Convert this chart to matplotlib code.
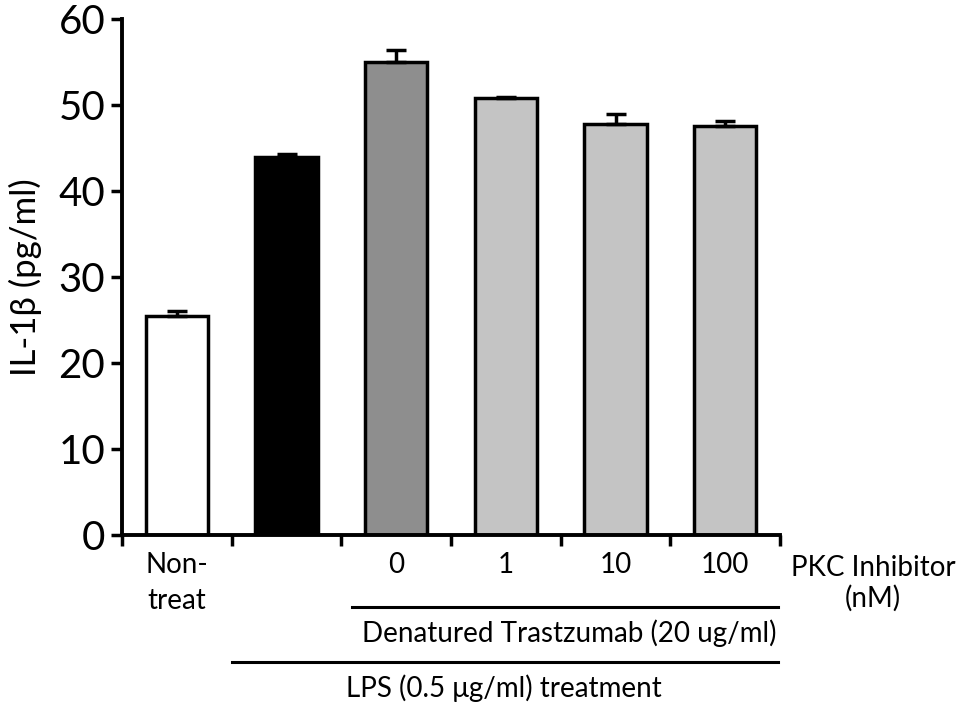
import matplotlib
matplotlib.use('Agg')
import matplotlib.pyplot as plt
import matplotlib.transforms as mtransforms

plt.rcParams['font.family'] = ['Lato', 'DejaVu Sans']

# values
groups = ['Non-\ntreat', '', '0', '1', '10', '100']
means = [25.5, 44.0, 55.0, 50.8, 47.8, 47.6]
errs = [0.5, 0.3, 1.4, 0.1, 1.2, 0.5]
colors = ['white', 'black', '#8e8e8e', '#c4c4c4', '#c4c4c4', '#c4c4c4']

fig = plt.figure(figsize=(9.63, 7.05), dpi=100)
ax = fig.add_axes([122 / 963, 1 - 535 / 705, 658 / 963, 516 / 705])

x = list(range(len(means)))
ax.bar(x, means, width=0.57, color=colors, edgecolor='black', linewidth=2.5,
       yerr=[[0] * len(errs), errs], error_kw=dict(ecolor='black', elinewidth=2.5, capsize=7, capthick=2.5),
       zorder=2)

ax.set_xlim(-0.5, 5.5)
ax.set_ylim(0, 60)
ax.set_yticks([0, 10, 20, 30, 40, 50, 60])
ax.tick_params(axis='y', labelsize=29, width=2.5, length=8, direction='out', pad=4)
ax.set_ylabel('IL-1β (pg/ml)', fontsize=25, labelpad=12)

# category boundaries as ticks, group names in between
ax.set_xticks([i - 0.5 for i in range(len(means) + 1)])
ax.set_xticklabels([])
ax.set_xticks(x, minor=True)
ax.set_xticklabels(groups, minor=True, fontsize=20, linespacing=1.5)
ax.tick_params(axis='x', which='major', width=2.5, length=8, direction='out')
ax.tick_params(axis='x', which='minor', length=0, pad=12)
for lab in ax.get_xticklabels(minor=True):
    lab.set_verticalalignment('top')

for s in ['top', 'right']:
    ax.spines[s].set_visible(False)
for s in ['left', 'bottom']:
    ax.spines[s].set_linewidth(2.8)

trans = mtransforms.blended_transform_factory(ax.transData, ax.transAxes)
ax.plot([1.6, 5.48], [-0.1395, -0.1395], color='black', lw=2.2, transform=trans, clip_on=False)
ax.plot([0.5, 5.48], [-0.246, -0.246], color='black', lw=2.2, transform=trans, clip_on=False)
ax.text(3.58, -0.19, 'Denatured Trastzumab (20 ug/ml)', fontsize=20, ha='center', va='center', transform=trans)
ax.text(2.98, -0.2965, 'LPS (0.5 μg/ml) treatment', fontsize=20, ha='center', va='center', transform=trans)
ax.text(6.35, -0.064, 'PKC Inhibitor', fontsize=20, ha='center', va='center', transform=trans)
ax.text(6.35, -0.122, '(nM)', fontsize=20, ha='center', va='center', transform=trans)

fig.savefig('out.png', dpi=100)
